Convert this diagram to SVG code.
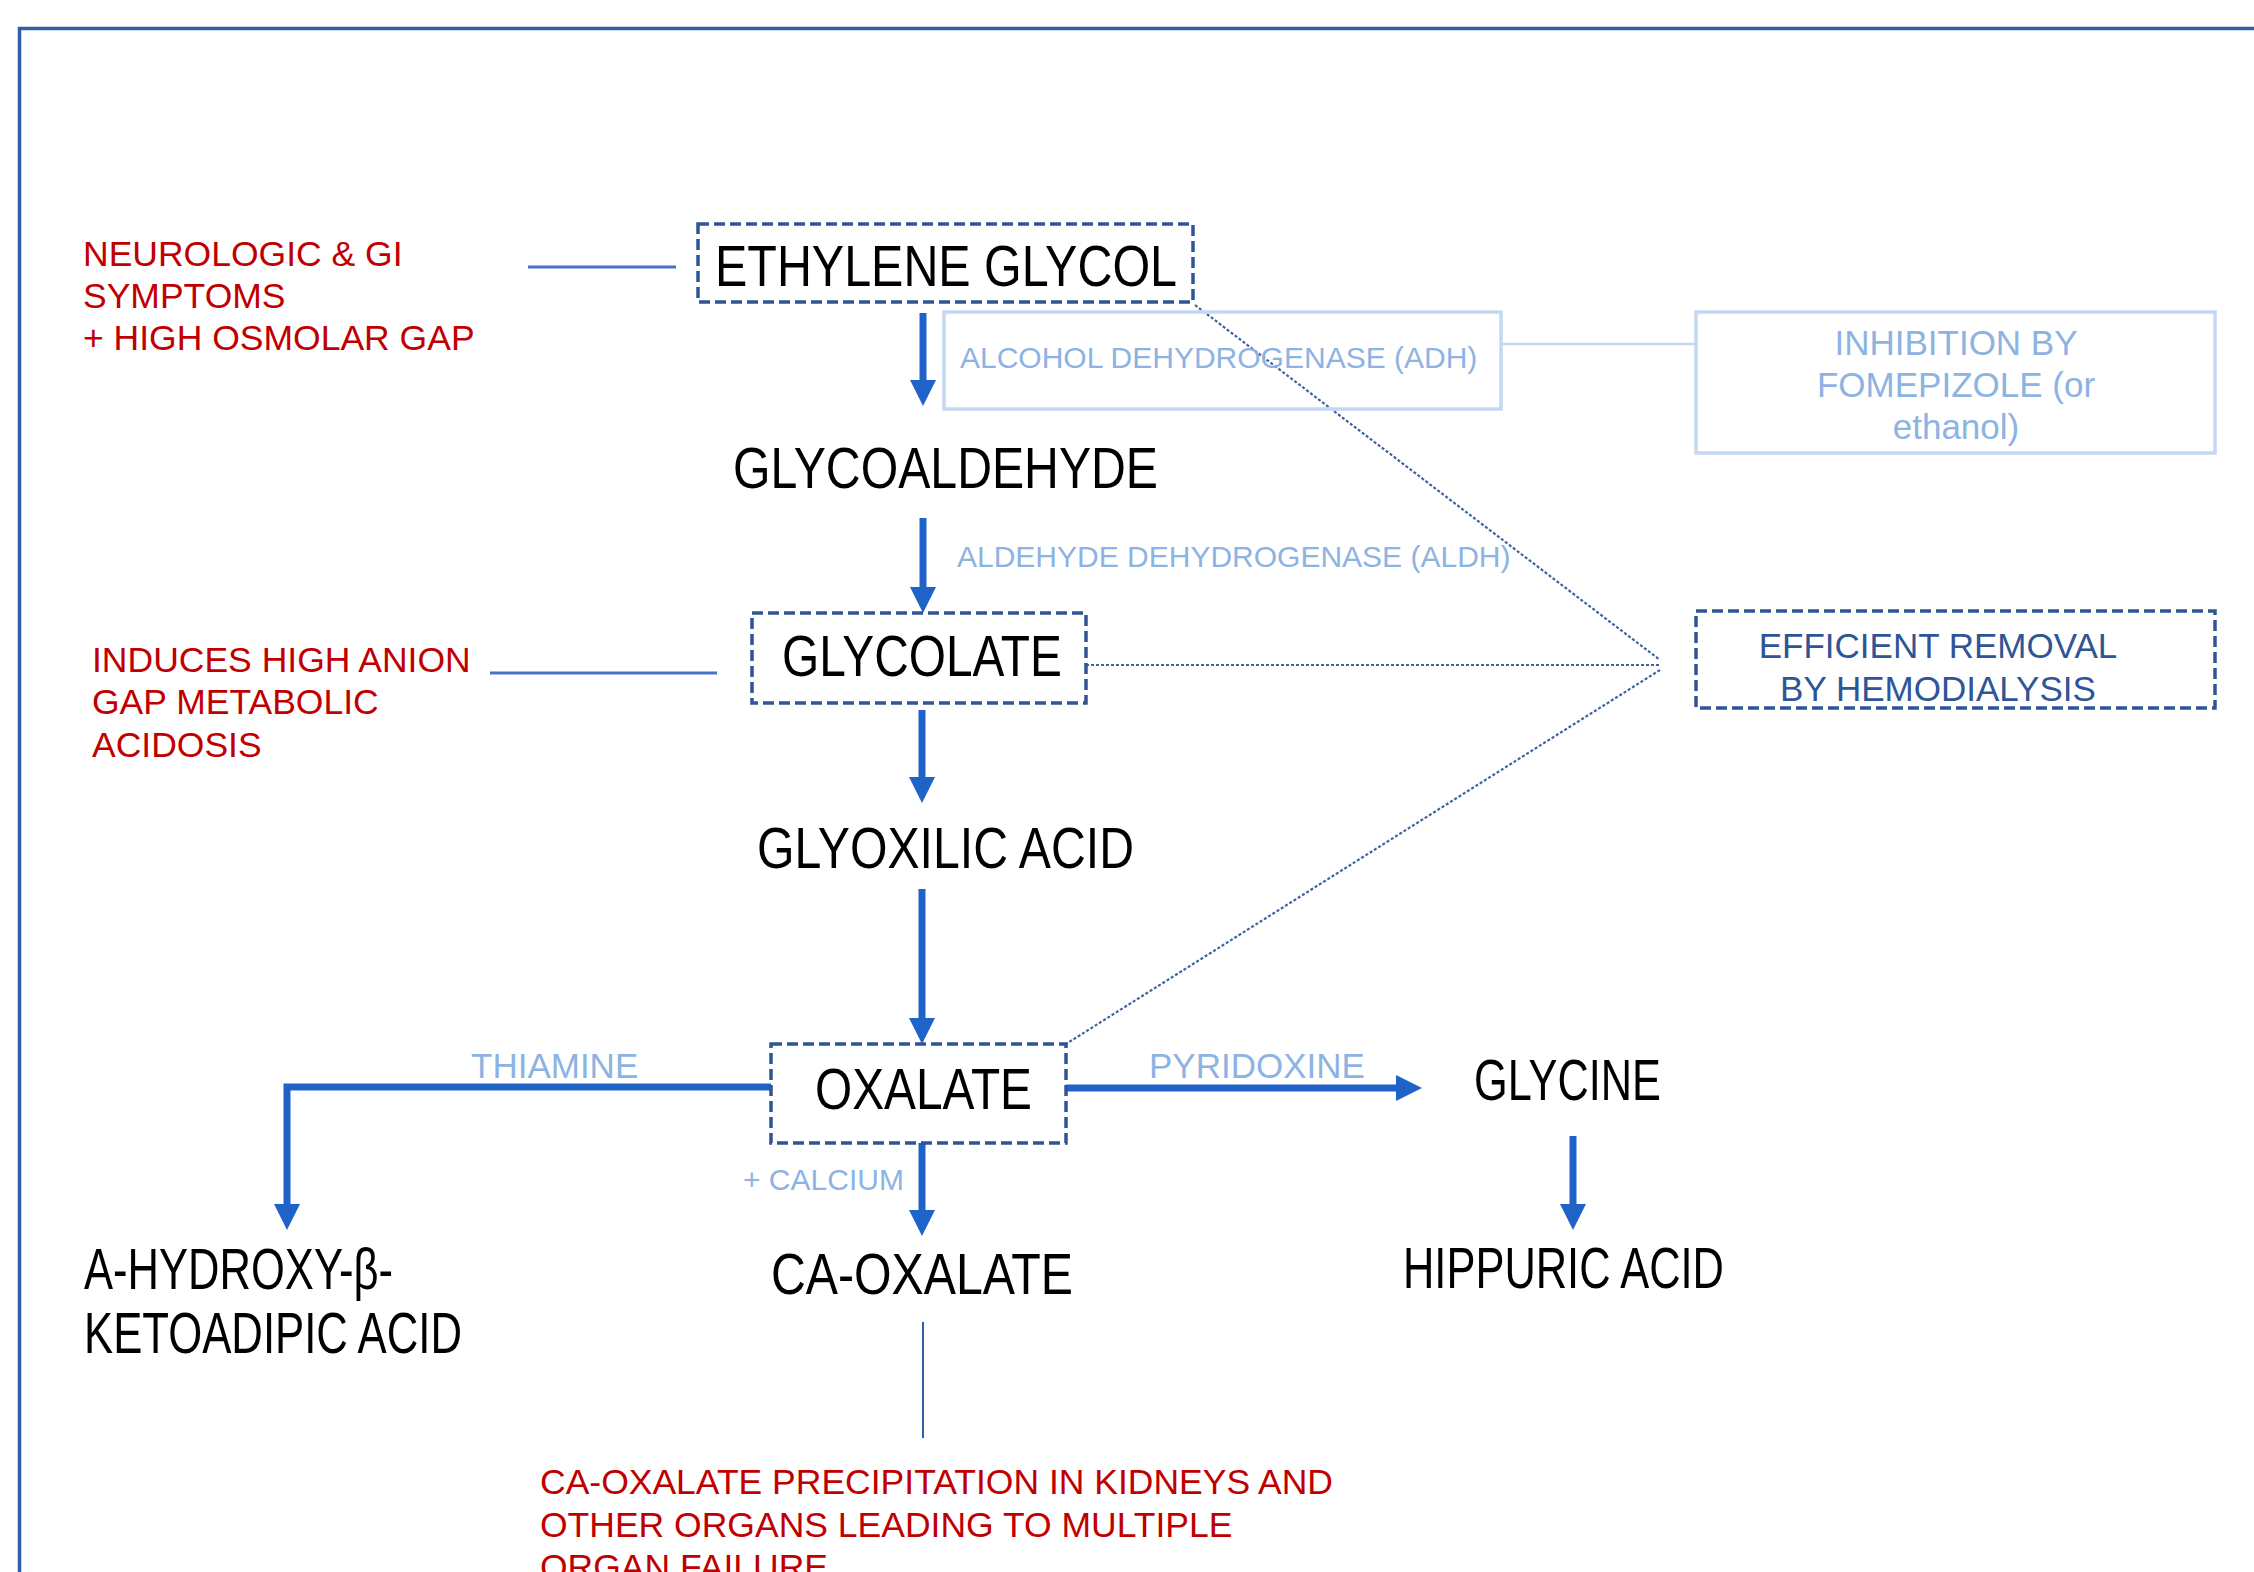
<svg xmlns="http://www.w3.org/2000/svg" width="2254" height="1572" viewBox="0 0 2254 1572">
<style>
text{font-family:"Liberation Sans",Arial,sans-serif}
.blk{fill:#000;font-size:57px}
.red{fill:#c00000;font-size:35.5px}
.lb{fill:#8db3e2;font-size:30px}
.lb2{fill:#8db3e2;font-size:35px}
.dk{fill:#2f5597;font-size:35px}
.dbox{fill:none;stroke:#2f5597;stroke-width:3.5;stroke-dasharray:11 5}
.lbox{fill:none;stroke:#c5d7f2;stroke-width:3.5}
.arr{fill:none;stroke:#1f62c8;stroke-width:7;marker-end:url(#ah)}
.dot{fill:none;stroke:#3e64a0;stroke-width:2.2;stroke-dasharray:3 2}
.thin{fill:none;stroke:#4472c4;stroke-width:3}
</style>
<defs>
<marker id="ah" markerUnits="userSpaceOnUse" markerWidth="26" markerHeight="26" viewBox="0 0 26 26" refX="0" refY="13" orient="auto"><path d="M0,0 L26,13 L0,26 Z" fill="#1f62c8"/></marker>
</defs>
<rect width="2254" height="1572" fill="#fff"/>
<path d="M19.5,1572 V28.5 H2254" fill="none" stroke="#2f5fa7" stroke-width="3.5"/>

<g id="connectors">
<line class="thin" x1="528" y1="267" x2="676" y2="267"/>
<line class="thin" x1="490" y1="673" x2="717" y2="673"/>
<line x1="1501" y1="344" x2="1696" y2="344" stroke="#c5d7f2" stroke-width="2.5"/>
<line x1="923" y1="1322" x2="923" y2="1438" stroke="#2f5fa7" stroke-width="2"/>
<line class="dot" x1="1195" y1="305" x2="1660" y2="660"/>
<line class="dot" x1="1086" y1="665" x2="1660" y2="665"/>
<line class="dot" x1="1660" y1="670" x2="1066" y2="1044"/>
<line class="arr" x1="923" y1="313" x2="923" y2="380"/>
<line class="arr" x1="923" y1="518" x2="923" y2="587"/>
<line class="arr" x1="922" y1="710" x2="922" y2="777"/>
<line class="arr" x1="922" y1="889" x2="922" y2="1018"/>
<line class="arr" x1="922" y1="1143" x2="922" y2="1210"/>
<line class="arr" x1="1573" y1="1136" x2="1573" y2="1204"/>
<line class="arr" x1="1066" y1="1088" x2="1396" y2="1088"/>
<path class="arr" d="M771,1087 H287 V1204"/>
</g>

<g id="note-neuro">
<text class="red" x="83" y="266">NEUROLOGIC &amp; GI</text>
<text class="red" x="83" y="308">SYMPTOMS</text>
<text class="red" x="83" y="350">+ HIGH OSMOLAR GAP</text>
</g>
<g id="note-acidosis">
<text class="red" x="92" y="672">INDUCES HIGH ANION</text>
<text class="red" x="92" y="714">GAP METABOLIC</text>
<text class="red" x="92" y="757">ACIDOSIS</text>
</g>
<g id="note-failure">
<text class="red" x="540" y="1494">CA-OXALATE PRECIPITATION IN KIDNEYS AND</text>
<text class="red" x="540" y="1537">OTHER ORGANS LEADING TO MULTIPLE</text>
<text class="red" x="540" y="1579">ORGAN FAILURE</text>
</g>

<g id="ethylene-glycol">
<rect class="dbox" x="698" y="224" width="495" height="78"/>
<text class="blk" x="715" y="286" textLength="462" lengthAdjust="spacingAndGlyphs">ETHYLENE GLYCOL</text>
</g>
<g id="adh">
<rect class="lbox" x="944" y="312" width="557" height="97"/>
<text class="lb" x="960" y="368">ALCOHOL DEHYDROGENASE (ADH)</text>
</g>
<g id="inhibition">
<rect class="lbox" x="1696" y="312" width="519" height="141"/>
<text class="lb2" x="1956" y="355" text-anchor="middle">INHIBITION BY</text>
<text class="lb2" x="1956" y="397" text-anchor="middle">FOMEPIZOLE (or</text>
<text class="lb2" x="1956" y="439" text-anchor="middle">ethanol)</text>
</g>
<g id="glycoaldehyde">
<text class="blk" x="733" y="488" font-size="56" textLength="425" lengthAdjust="spacingAndGlyphs">GLYCOALDEHYDE</text>
</g>
<g id="aldh">
<text class="lb" x="957" y="567">ALDEHYDE DEHYDROGENASE (ALDH)</text>
</g>
<g id="glycolate">
<rect class="dbox" x="752" y="613" width="334" height="90"/>
<text class="blk" x="782" y="676" textLength="280" lengthAdjust="spacingAndGlyphs">GLYCOLATE</text>
</g>
<g id="hemodialysis">
<rect class="dbox" x="1696" y="611" width="519" height="97"/>
<text class="dk" x="1938" y="658" text-anchor="middle">EFFICIENT REMOVAL</text>
<text class="dk" x="1938" y="701" text-anchor="middle">BY HEMODIALYSIS</text>
</g>
<g id="glyoxilic-acid">
<text class="blk" x="757" y="868" font-size="56" textLength="377" lengthAdjust="spacingAndGlyphs">GLYOXILIC ACID</text>
</g>
<g id="oxalate">
<rect class="dbox" x="771" y="1044" width="295" height="99"/>
<text class="blk" x="815" y="1109" textLength="217" lengthAdjust="spacingAndGlyphs">OXALATE</text>
</g>
<g id="thiamine">
<text class="lb2" x="471" y="1078">THIAMINE</text>
</g>
<g id="pyridoxine">
<text class="lb2" x="1149" y="1078">PYRIDOXINE</text>
</g>
<g id="calcium">
<text class="lb" x="743" y="1190" font-size="26">+ CALCIUM</text>
</g>
<g id="glycine">
<text class="blk" x="1474" y="1100" font-size="50" textLength="187" lengthAdjust="spacingAndGlyphs">GLYCINE</text>
</g>
<g id="hydroxy-ketoadipic">
<text class="blk" x="84" y="1289" font-size="50" textLength="309" lengthAdjust="spacingAndGlyphs">A-HYDROXY-β-</text>
<text class="blk" x="84" y="1353" font-size="50" textLength="378" lengthAdjust="spacingAndGlyphs">KETOADIPIC ACID</text>
</g>
<g id="ca-oxalate">
<text class="blk" x="771" y="1294" textLength="302" lengthAdjust="spacingAndGlyphs">CA-OXALATE</text>
</g>
<g id="hippuric-acid">
<text class="blk" x="1403" y="1288" font-size="51" textLength="321" lengthAdjust="spacingAndGlyphs">HIPPURIC ACID</text>
</g>
</svg>
